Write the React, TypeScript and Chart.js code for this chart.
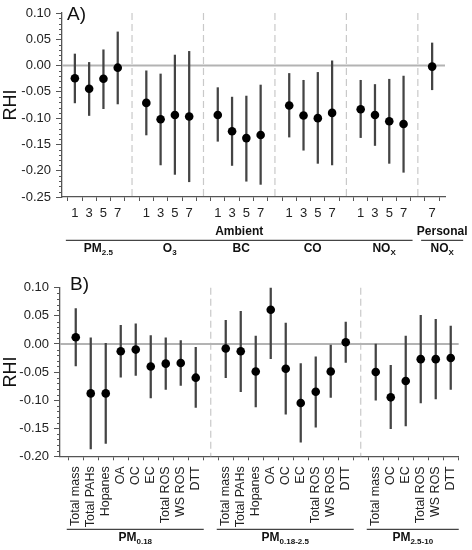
import React, { useEffect, useRef } from 'react';
import { Chart, registerables } from 'chart.js';

Chart.register(...registerables);

const FONT = '"Liberation Sans", Arial, Helvetica, sans-serif';

// ---------- Panel A data ----------
const lagLabels = ['1', '3', '5', '7'];
const ambientMain = ['PM', 'O', 'BC', 'CO', 'NO'];
const ambientSub = ['2.5', '3', '', '', 'X'];
const meanA = [
  -0.024, -0.044, -0.025, -0.004,
  -0.071, -0.102, -0.094, -0.097,
  -0.094, -0.125, -0.138, -0.132,
  -0.076, -0.095, -0.100, -0.090,
  -0.083, -0.094, -0.106, -0.111,
];
const lowA = [
  -0.071, -0.095, -0.082, -0.073,
  -0.132, -0.189, -0.207, -0.221,
  -0.144, -0.190, -0.220, -0.226,
  -0.136, -0.161, -0.186, -0.189,
  -0.137, -0.152, -0.186, -0.203,
];
const highA = [
  0.022, 0.006, 0.030, 0.064,
  -0.010, -0.016, 0.020, 0.027,
  -0.042, -0.060, -0.058, -0.037,
  -0.015, -0.028, -0.013, 0.009,
  -0.028, -0.036, -0.026, -0.020,
];
const personalLag = ['7'];
const personalMean = [-0.002];
const personalLow = [-0.046];
const personalHigh = [0.043];
const yTicksA = { min: -0.25, max: 0.10, step: 0.05 };

// ---------- Panel B data ----------
const speciesB1 = ['Total mass', 'Total PAHs', 'Hopanes', 'OA', 'OC', 'EC', 'Total ROS', 'WS ROS', 'DTT'];
const meanB1 = [0.012, -0.088, -0.088, -0.013, -0.010, -0.040, -0.035, -0.034, -0.060];
const lowB1 = [-0.039, -0.187, -0.177, -0.059, -0.056, -0.096, -0.081, -0.074, -0.113];
const highB1 = [0.063, 0.011, 0.001, 0.033, 0.036, 0.015, 0.011, 0.006, -0.006];

const speciesB2 = ['Total mass', 'Total PAHs', 'Hopanes', 'OA', 'OC', 'EC', 'Total ROS', 'WS ROS', 'DTT'];
const meanB2 = [-0.008, -0.013, -0.049, 0.061, -0.044, -0.105, -0.085, -0.049, 0.003];
const lowB2 = [-0.060, -0.085, -0.112, -0.026, -0.125, -0.175, -0.148, -0.095, -0.033];
const highB2 = [0.042, 0.058, 0.014, 0.101, 0.037, -0.035, -0.023, -0.002, 0.039];

const speciesB3 = ['Total mass', 'OC', 'EC', 'Total ROS', 'WS ROS', 'DTT'];
const meanB3 = [-0.050, -0.095, -0.066, -0.027, -0.027, -0.025];
const lowB3 = [-0.100, -0.151, -0.146, -0.105, -0.098, -0.081];
const highB3 = [0.000, -0.038, 0.014, 0.051, 0.044, 0.032];

const sizeMain = ['PM', 'PM', 'PM'];
const sizeSub = ['0.18', '0.18-2.5', '2.5-10'];
const yTicksB = { min: -0.20, max: 0.10, step: 0.05 };

type Group = {
  labels: string[];
  mean: number[];
  low: number[];
  high: number[];
  start: number;
};

type PanelSpec = {
  letter: string;
  groups: Group[];
  xMin: number;
  xMax: number;
  yMin: number;
  yMax: number;
  yStep: number;
  separators: number[];
  padding: { top: number; right: number; bottom: number; left: number };
  yWidth: number;
  xHeight: number;
  rotate: boolean;
  letterPos: [number, number];
  decorate: (ctx: CanvasRenderingContext2D, chart: any) => void;
};

function drawSubText(ctx: CanvasRenderingContext2D, cx: number, cy: number, main: string, sub: string, size: number) {
  ctx.save();
  ctx.fillStyle = '#111';
  ctx.textBaseline = 'middle';
  ctx.textAlign = 'left';
  ctx.font = `bold ${size}px ${FONT}`;
  const w1 = ctx.measureText(main).width;
  const subSize = Math.round(size * 0.68);
  ctx.font = `bold ${subSize}px ${FONT}`;
  const w2 = sub ? ctx.measureText(sub).width : 0;
  const x0 = cx - (w1 + w2) / 2;
  ctx.font = `bold ${size}px ${FONT}`;
  ctx.fillText(main, x0, cy);
  if (sub) {
    ctx.font = `bold ${subSize}px ${FONT}`;
    ctx.fillText(sub, x0 + w1, cy + size * 0.32);
  }
  ctx.restore();
}

function hline(ctx: CanvasRenderingContext2D, x1: number, x2: number, y: number) {
  ctx.save();
  ctx.strokeStyle = '#444';
  ctx.lineWidth = 1.3;
  ctx.beginPath();
  ctx.moveTo(x1, y);
  ctx.lineTo(x2, y);
  ctx.stroke();
  ctx.restore();
}

const fmt = (v: number) => (Math.abs(v) < 1e-9 ? '0.00' : v.toFixed(2));

const panelA: PanelSpec = {
  letter: 'A)',
  groups: [
    ...ambientMain.map((_, g) => ({
      labels: lagLabels,
      mean: meanA.slice(g * 4, g * 4 + 4),
      low: lowA.slice(g * 4, g * 4 + 4),
      high: highA.slice(g * 4, g * 4 + 4),
      start: g * 5,
    })),
    { labels: personalLag, mean: personalMean, low: personalLow, high: personalHigh, start: 25 },
  ],
  xMin: -0.9,
  xMax: 25.9,
  yMin: yTicksA.min,
  yMax: yTicksA.max,
  yStep: yTicksA.step,
  separators: [4, 9, 14, 19, 24],
  padding: { top: 13, right: 27, bottom: 54, left: 0 },
  yWidth: 62,
  xHeight: 24,
  rotate: false,
  letterPos: [67, 20],
  decorate: (ctx, chart) => {
    const xs = chart.scales.x;
    const px = (v: number) => xs.getPixelForValue(v);
    const lineY = 240.3;
    const a1 = px(0) - 9;
    const a2 = px(23) + 9;
    hline(ctx, a1, a2, lineY);
    drawSubText(ctx, (a1 + a2) / 2, 232, 'Ambient', '', 12);
    ambientMain.forEach((m, g) => {
      drawSubText(ctx, px(g * 5 + 1.5) + 2, 249, m, ambientSub[g], 12);
    });
    const p1 = px(25) - 11;
    const p2 = px(25) + 31;
    hline(ctx, p1, p2, lineY);
    drawSubText(ctx, (p1 + p2) / 2, 232, 'Personal', '', 12);
    drawSubText(ctx, (p1 + p2) / 2, 249, 'NO', 'X', 12);
  },
};

const groupsB: Group[] = [
  { labels: speciesB1, mean: meanB1, low: lowB1, high: highB1, start: 0 },
  { labels: speciesB2, mean: meanB2, low: lowB2, high: highB2, start: 10 },
  { labels: speciesB3, mean: meanB3, low: lowB3, high: highB3, start: 20 },
];

const panelB: PanelSpec = {
  letter: 'B)',
  groups: groupsB,
  xMin: -1.05,
  xMax: 25.53,
  yMin: yTicksB.min,
  yMax: yTicksB.max,
  yStep: yTicksB.step,
  separators: [9, 19],
  padding: { top: 9.3, right: 13.3, bottom: 13.7, left: 0 },
  yWidth: 60,
  xHeight: 80,
  rotate: true,
  letterPos: [70, 15],
  decorate: (ctx, chart) => {
    const xs = chart.scales.x;
    const px = (v: number) => xs.getPixelForValue(v);
    groupsB.forEach((g, i) => {
      const x1 = px(g.start) - 9;
      const x2 = px(g.start + g.labels.length - 1) + 8;
      hline(ctx, x1, x2, 254.3);
      drawSubText(ctx, (x1 + x2) / 2, 263, sizeMain[i], sizeSub[i], 12);
    });
  },
};

function buildConfig(spec: PanelSpec): any {
  const labelMap = new Map<number, string>();
  const bars: any[] = [];
  const pts: any[] = [];
  spec.groups.forEach((g) => {
    g.labels.forEach((lab, i) => {
      const x = g.start + i;
      labelMap.set(x, lab);
      bars.push({ x, y: [g.low[i], g.high[i]] });
      pts.push({ x, y: g.mean[i] });
    });
  });

  const deco = {
    id: 'deco',
    beforeDatasetsDraw(chart: any) {
      const { ctx, chartArea } = chart;
      const xs = chart.scales.x;
      const ys = chart.scales.y;
      ctx.save();
      // separators
      ctx.strokeStyle = '#c9c9c9';
      ctx.lineWidth = 1.2;
      ctx.setLineDash([7, 4]);
      spec.separators.forEach((s) => {
        const x = xs.getPixelForValue(s);
        ctx.beginPath();
        ctx.moveTo(x, chartArea.top);
        ctx.lineTo(x, chartArea.bottom);
        ctx.stroke();
      });
      ctx.setLineDash([]);
      // zero line
      const y0 = ys.getPixelForValue(0);
      ctx.strokeStyle = '#b3b3b3';
      ctx.lineWidth = 2;
      ctx.beginPath();
      ctx.moveTo(chartArea.left, y0);
      ctx.lineTo(chartArea.right, y0);
      ctx.stroke();
      ctx.restore();
    },
    afterDraw(chart: any) {
      const { ctx, chartArea } = chart;
      const ys = chart.scales.y;
      ctx.save();
      // minor y ticks
      ctx.strokeStyle = '#555';
      ctx.lineWidth = 1;
      const kMin = Math.round(spec.yMin * 100);
      const kMax = Math.round(spec.yMax * 100);
      for (let k = kMin; k <= kMax; k++) {
        if (k % 5 === 0) continue;
        const y = Math.round(ys.getPixelForValue(k / 100)) + 0.5;
        ctx.beginPath();
        ctx.moveTo(chartArea.left - 3, y);
        ctx.lineTo(chartArea.left, y);
        ctx.stroke();
      }
      // panel letter
      ctx.fillStyle = '#111';
      ctx.font = `19px ${FONT}`;
      ctx.textAlign = 'left';
      ctx.textBaseline = 'alphabetic';
      ctx.fillText(spec.letter, spec.letterPos[0], spec.letterPos[1]);
      ctx.restore();
      spec.decorate(ctx, chart);
    },
  };

  return {
    type: 'bar',
    data: {
      datasets: [
        {
          type: 'scatter',
          data: pts,
          pointRadius: 4.3,
          pointHoverRadius: 4.3,
          pointBackgroundColor: '#000',
          pointBorderColor: '#000',
          pointBorderWidth: 0,
          order: 0,
        },
        {
          type: 'bar',
          data: bars,
          backgroundColor: '#444',
          borderWidth: 0,
          barThickness: 1.6,
          grouped: false,
          order: 1,
        },
      ],
    },
    options: {
      animation: false,
      responsive: false,
      maintainAspectRatio: false,
      events: [],
      layout: { padding: spec.padding },
      plugins: { legend: { display: false }, tooltip: { enabled: false } },
      scales: {
        x: {
          type: 'linear',
          min: spec.xMin,
          max: spec.xMax,
          offset: false,
          grid: { drawOnChartArea: false, drawTicks: true, tickLength: 4, color: '#555', lineWidth: 1 },
          border: { display: true, color: '#555', width: 1.3 },
          ticks: {
            stepSize: 1,
            includeBounds: false,
            autoSkip: false,
            minRotation: spec.rotate ? 90 : 0,
            maxRotation: spec.rotate ? 90 : 0,
            padding: spec.rotate ? 6 : 5,
            color: '#222',
            font: { size: spec.rotate ? 12.5 : 13, family: FONT },
            callback: (v: number) => (Number.isInteger(v) ? labelMap.get(v) ?? '' : ''),
          },
          afterFit: (s: any) => {
            s.height = spec.xHeight;
          },
        },
        y: {
          type: 'linear',
          min: spec.yMin,
          max: spec.yMax,
          grid: { drawOnChartArea: false, drawTicks: true, tickLength: 6, color: '#555', lineWidth: 1 },
          border: { display: true, color: '#555', width: 1.3 },
          ticks: {
            stepSize: spec.yStep,
            padding: 5,
            color: '#222',
            font: { size: 13, family: FONT },
            callback: (v: number) => fmt(v),
          },
          title: {
            display: true,
            text: 'RHI',
            color: '#111',
            font: { size: 18, family: FONT },
            padding: { top: 0, bottom: 0 },
          },
          afterFit: (s: any) => {
            s.width = spec.yWidth;
          },
        },
      },
    },
    plugins: [deco],
  };
}

function Panel({ spec, top }: { spec: PanelSpec; top: number }) {
  const ref = useRef<HTMLCanvasElement | null>(null);
  useEffect(() => {
    if (!ref.current) return;
    const chart = new Chart(ref.current, buildConfig(spec));
    return () => chart.destroy();
  }, [spec]);
  return (
    <canvas
      ref={ref}
      width={472}
      height={275}
      style={{ position: 'absolute', left: 0, top, width: 472, height: 275, display: 'block' }}
    />
  );
}

export default function App() {
  return (
    <div style={{ position: 'absolute', left: 0, top: 0, width: 472, height: 550, background: '#fff' }}>
      <Panel spec={panelA} top={0} />
      <Panel spec={panelB} top={275} />
    </div>
  );
}
